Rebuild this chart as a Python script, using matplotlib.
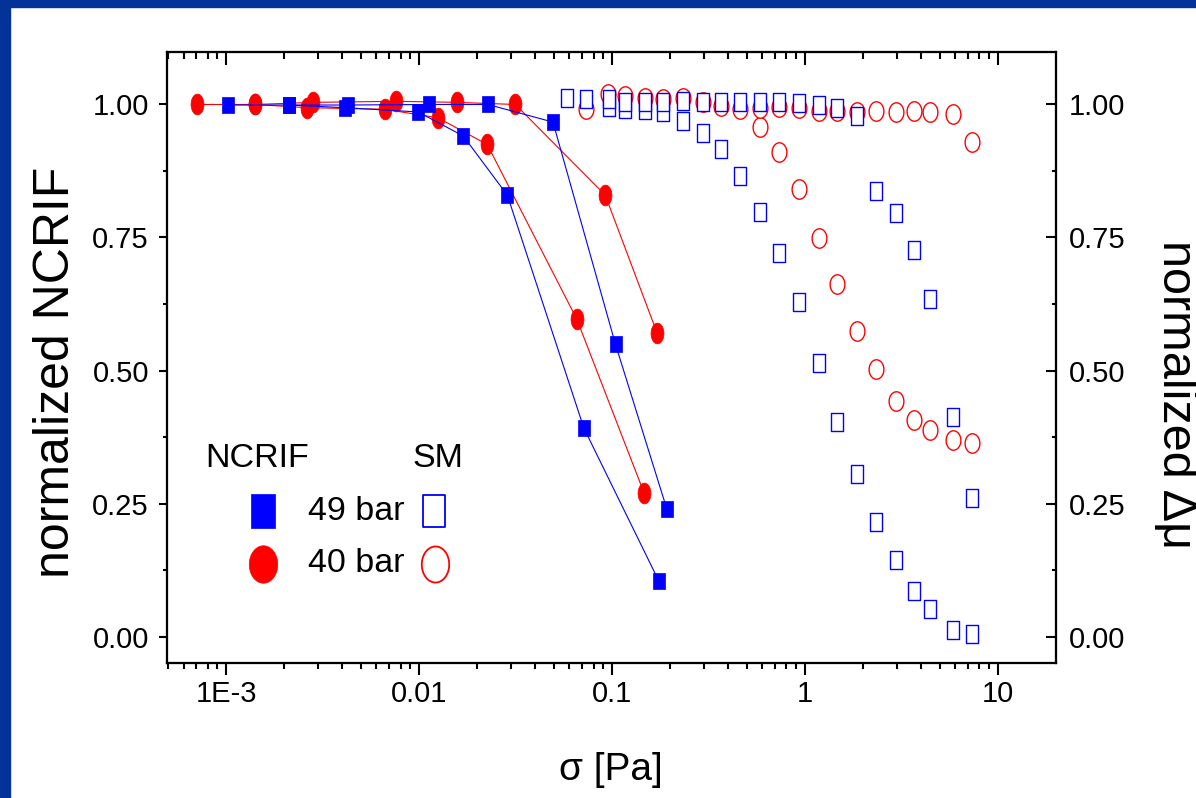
import numpy as np
import matplotlib
matplotlib.use('Agg')
import matplotlib.pyplot as plt
from matplotlib.path import Path
from matplotlib.patches import Rectangle
from matplotlib import font_manager
from matplotlib.ticker import FixedLocator, FixedFormatter, LogLocator, MultipleLocator, NullFormatter

# NCRIF, 49 bar (filled blue squares), two runs
ncrif49_a_x = [0.00102, 0.00211, 0.0041, 0.00986, 0.0169, 0.0286, 0.0713, 0.174]
ncrif49_a_y = [0.998, 0.998, 0.993, 0.985, 0.940, 0.829, 0.392, 0.106]
ncrif49_b_x = [0.00211, 0.00428, 0.01125, 0.0227, 0.0493, 0.104, 0.192]
ncrif49_b_y = [0.998, 0.998, 0.999, 0.999, 0.966, 0.549, 0.240]

# NCRIF, 40 bar (filled red circles), two runs
ncrif40_a_x = [0.000708, 0.00141, 0.00261, 0.00663, 0.0125, 0.0225, 0.0656, 0.146]
ncrif40_a_y = [0.999, 0.999, 0.993, 0.990, 0.974, 0.924, 0.596, 0.271]
ncrif40_b_x = [0.00141, 0.00282, 0.00762, 0.0156, 0.0315, 0.092, 0.171]
ncrif40_b_y = [0.999, 1.003, 1.005, 1.003, 0.999, 0.829, 0.570]

# SM, 49 bar (open blue squares)
sm49_a_x = [0.0958, 0.117, 0.147, 0.184, 0.234, 0.294, 0.368, 0.462, 0.586, 0.735,
            0.925, 1.175, 1.47, 1.85, 2.32, 2.94, 3.68, 4.44, 5.86, 7.36]
sm49_a_y = [0.995, 0.991, 0.989, 0.984, 0.968, 0.946, 0.915, 0.864, 0.798, 0.721,
            0.629, 0.515, 0.403, 0.305, 0.215, 0.144, 0.086, 0.052, 0.014, 0.005]
sm49_b_x = [0.0585, 0.0734, 0.0958, 0.117, 0.147, 0.184, 0.234, 0.294, 0.368, 0.462, 0.586,
            0.735, 0.925, 1.175, 1.47, 1.85, 2.32, 2.94, 3.68, 4.44, 5.86, 7.36]
sm49_b_y = [1.011, 1.009, 1.010, 1.004, 1.004, 1.004, 1.006, 1.003, 1.003, 1.003, 1.003,
            1.003, 1.001, 0.998, 0.992, 0.977, 0.836, 0.796, 0.726, 0.635, 0.413, 0.260]

# SM, 40 bar (open red circles)
sm40_a_x = [0.095, 0.117, 0.147, 0.184, 0.234, 0.294, 0.368, 0.462, 0.586, 0.735,
            0.925, 1.175, 1.47, 1.85, 2.32, 2.94, 3.68, 4.44, 5.86, 7.36]
sm40_a_y = [1.018, 1.015, 1.012, 1.009, 1.012, 1.003, 0.996, 0.990, 0.956, 0.909,
            0.840, 0.749, 0.662, 0.574, 0.502, 0.443, 0.408, 0.388, 0.369, 0.365]
sm40_b_x = [0.0734, 0.586, 0.735, 0.925, 1.175, 1.47, 1.85, 2.32, 2.94, 3.68, 4.44, 5.86, 7.36]
sm40_b_y = [0.991, 0.993, 0.994, 0.993, 0.987, 0.987, 0.984, 0.987, 0.984, 0.987, 0.984, 0.981, 0.928]

x_ticks = [1e-3, 1e-2, 0.1, 1, 10]
x_tick_labels = ['1E-3', '0.01', '0.1', '1', '10']
y_ticks = [0.0, 0.25, 0.5, 0.75, 1.0]
y_tick_labels = ['0.00', '0.25', '0.50', '0.75', '1.00']

BLUE = '#0000ff'
RED = '#ff0000'
FRAME = '#033399'

# text in the picture is narrow; use the narrow face if we have it
names = {f.name for f in font_manager.fontManager.ttflist}
if 'Liberation Sans Narrow' in names:
    narrow, k = 'Liberation Sans Narrow', 1.0
else:
    narrow, k = 'Liberation Sans', 0.875
wide = 'Liberation Sans'


def rect_marker(ratio):
    w = ratio / 2
    return Path([(-w, -0.5), (w, -0.5), (w, 0.5), (-w, 0.5), (-w, -0.5)], closed=True)


def ellipse_marker(ratio):
    t = np.linspace(0, 2 * np.pi, 49)
    return Path(np.column_stack([ratio / 2 * np.cos(t), 0.5 * np.sin(t)]), closed=True)


sq = rect_marker(0.72)
circ_f = ellipse_marker(0.62)
circ_o = ellipse_marker(0.76)

fig = plt.figure(figsize=(11.96, 7.98), dpi=100)
fig.patch.set_facecolor('white')
fig.patches.append(Rectangle((0, 1 - 7 / 798), 1, 7 / 798, transform=fig.transFigure,
                             color=FRAME, zorder=0))
fig.patches.append(Rectangle((0, 0), 10 / 1196, 1, transform=fig.transFigure,
                             color=FRAME, zorder=0))

ax = fig.add_axes([166.7 / 1196, 1 - 662.7 / 798, 889.3 / 1196, 611 / 798])
ax.set_xscale('log')
xlim = (4.91e-4, 19.95)
ylim = (-0.048, 1.098)

# SM (open symbols, no lines)
ax.plot(sm40_a_x, sm40_a_y, ls='none', marker=circ_o, ms=14, mfc='white', mec=RED, mew=1.0)
ax.plot(sm40_b_x, sm40_b_y, ls='none', marker=circ_o, ms=14, mfc='white', mec=RED, mew=1.0)
ax.plot(sm49_a_x, sm49_a_y, ls='none', marker=sq, ms=12.5, mfc='white', mec=BLUE, mew=1.0)
ax.plot(sm49_b_x, sm49_b_y, ls='none', marker=sq, ms=12.5, mfc='white', mec=BLUE, mew=1.0)

# NCRIF (filled symbols with thin lines)
for xs, ys in [(ncrif40_a_x, ncrif40_a_y), (ncrif40_b_x, ncrif40_b_y)]:
    ax.plot(xs, ys, color=RED, lw=0.8, marker=circ_f, ms=15, mfc=RED, mec=RED, mew=0.5)
for xs, ys in [(ncrif49_a_x, ncrif49_a_y), (ncrif49_b_x, ncrif49_b_y)]:
    ax.plot(xs, ys, color=BLUE, lw=0.8, marker=sq, ms=12, mfc=BLUE, mec=BLUE, mew=0.5)

ax.set_xlim(*xlim)
ax.set_ylim(*ylim)

tick_family = [narrow, 'DejaVu Sans']
tick_size = 24 * k

ax.xaxis.set_major_locator(FixedLocator(x_ticks))
ax.xaxis.set_major_formatter(FixedFormatter(x_tick_labels))
ax.xaxis.set_minor_locator(LogLocator(base=10, subs=np.arange(2, 10)))
ax.xaxis.set_minor_formatter(NullFormatter())
ax.yaxis.set_major_locator(FixedLocator(y_ticks))
ax.yaxis.set_major_formatter(FixedFormatter(y_tick_labels))
ax.yaxis.set_minor_locator(MultipleLocator(0.125))

ax.tick_params(axis='x', which='major', direction='out', length=8.6, width=1.5, pad=4,
               top=False)
ax.tick_params(axis='x', which='minor', direction='out', length=4.5, width=1.5, top=False)
ax.tick_params(axis='y', which='major', direction='out', length=5.8, width=1.5, pad=7,
               right=False)
ax.tick_params(axis='y', which='minor', direction='out', length=3, width=1.5, right=False)
for lab in ax.get_xticklabels() + ax.get_yticklabels():
    lab.set_fontfamily(tick_family)
    lab.set_fontsize(tick_size)
for sp in ax.spines.values():
    sp.set_linewidth(1.5)

# top axis: ticks pointing in, no labels
axt = ax.twiny()
axt.set_xscale('log')
axt.set_xlim(*xlim)
axt.xaxis.set_major_locator(FixedLocator(x_ticks))
axt.xaxis.set_minor_locator(LogLocator(base=10, subs=np.arange(2, 10)))
axt.xaxis.set_minor_formatter(NullFormatter())
axt.tick_params(axis='x', which='major', direction='in', length=9.5, width=1.5,
                labeltop=False, bottom=False)
axt.tick_params(axis='x', which='minor', direction='in', length=5, width=1.5, bottom=False)
axt.tick_params(axis='y', left=False, right=False, labelleft=False, labelright=False)

# right axis: same scale, ticks pointing in
axr = ax.twinx()
axr.set_ylim(*ylim)
axr.yaxis.set_major_locator(FixedLocator(y_ticks))
axr.yaxis.set_major_formatter(FixedFormatter(y_tick_labels))
axr.yaxis.set_minor_locator(MultipleLocator(0.125))
axr.tick_params(axis='y', which='major', direction='in', length=7, width=1.5, pad=9.4,
                left=False)
axr.tick_params(axis='y', which='minor', direction='in', length=3, width=1.5, left=False)
for lab in axr.get_yticklabels():
    lab.set_fontfamily(tick_family)
    lab.set_fontsize(tick_size)
for a in (axt, axr):
    for sp in a.spines.values():
        sp.set_linewidth(1.5)

# axis titles
fig.text(56 / 1196, 1 - 372 / 798, 'normalized NCRIF', rotation=90, ha='center', va='center',
         family=[wide, 'DejaVu Sans'], fontsize=36)
fig.text(1175 / 1196, 1 - 395 / 798, 'normalized \u0394\u03bc', rotation=270, ha='center',
         va='center', family=[wide, 'DejaVu Sans'], fontsize=35)
fig.text(611 / 1196, 1 - 770 / 798, '\u03c3 [Pa]', ha='center', va='center',
         family=[narrow, 'DejaVu Sans'], fontsize=32 * k)

# hand-made legend
leg_font = dict(family=[narrow, 'DejaVu Sans'], fontsize=28 * k)
ax.text(0.1015, 0.335, 'NCRIF', transform=ax.transAxes, ha='center', va='center', **leg_font)
ax.text(0.305, 0.335, 'SM', transform=ax.transAxes, ha='center', va='center', **leg_font)
ax.text(0.159, 0.248, '49 bar', transform=ax.transAxes, ha='left', va='center', **leg_font)
ax.text(0.159, 0.162, '40 bar', transform=ax.transAxes, ha='left', va='center', **leg_font)
ax.plot([0.108], [0.248], transform=ax.transAxes, clip_on=False, ls='none', marker=rect_marker(0.71),
        ms=25, mfc=BLUE, mec=BLUE, mew=0.5)
ax.plot([0.108], [0.162], transform=ax.transAxes, clip_on=False, ls='none', marker=circ_o,
        ms=27, mfc=RED, mec=RED, mew=0.5)
ax.plot([0.301], [0.248], transform=ax.transAxes, clip_on=False, ls='none', marker=rect_marker(0.71),
        ms=23, mfc='white', mec=BLUE, mew=1.3)
ax.plot([0.302], [0.162], transform=ax.transAxes, clip_on=False, ls='none', marker=circ_o,
        ms=26, mfc='white', mec=RED, mew=1.3)

fig.savefig('out.png', dpi=100, facecolor='white')
